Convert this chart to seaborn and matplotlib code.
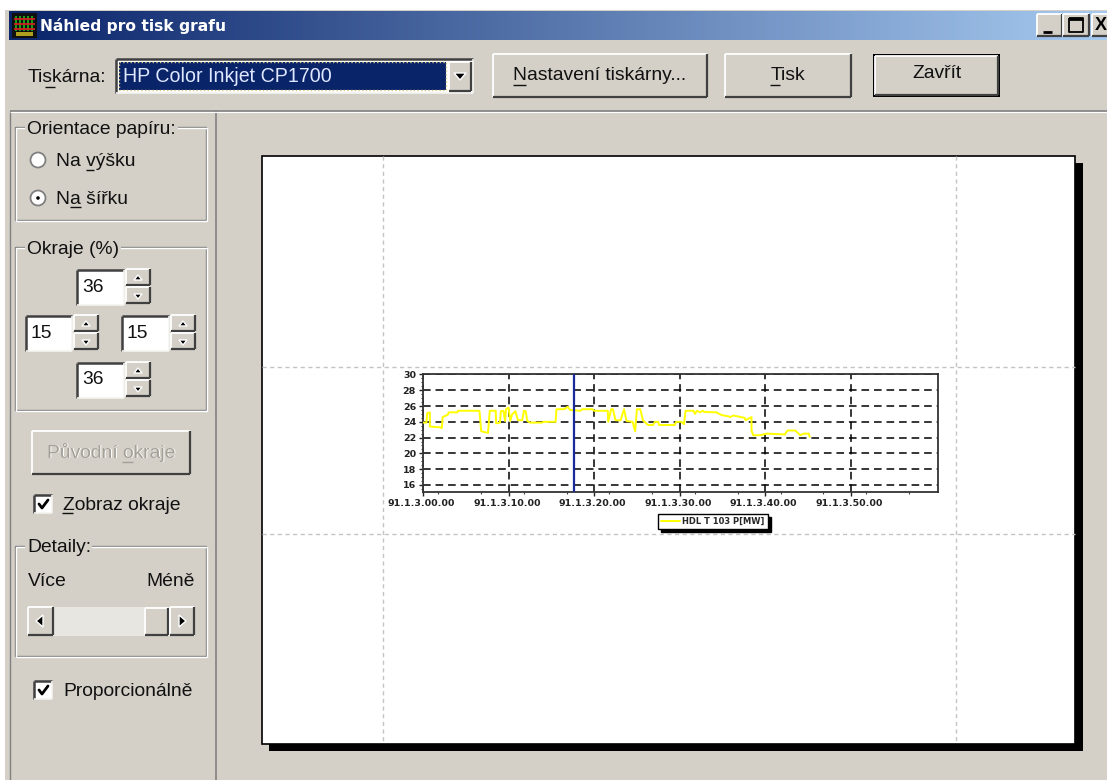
import numpy as np
import pandas as pd
import matplotlib
matplotlib.use("Agg")
import matplotlib.pyplot as plt
from matplotlib.patches import Rectangle, Circle, Polygon
from matplotlib.transforms import ScaledTranslation
import seaborn as sns

minutes = [0,0.4,0.5,0.8,0.8,2.0,2.2,2.3,2.9,3.0,4.0,4.1,6.6,6.8,7.6,7.8,8.5,8.55,9.0,9.1,9.4,9.6,9.7,10.0,10.2,10.4,10.8,11.1,11.6,11.8,12.0,12.2,12.5,13.9,14.1,15.5,15.6,16.5,16.9,17.2,18.4,18.6,19.8,20.0,21.6,21.65,22.0,22.2,22.5,23.1,23.5,23.8,24.5,24.8,25.0,25.4,25.7,26.3,26.9,27.1,27.5,27.6,29.4,29.6,30.2,30.5,30.7,31.6,31.8,32.0,32.4,32.7,32.9,34.3,34.9,35.7,35.9,36.3,37.6,37.7,38.4,38.4,38.6,39.4,40.2,42.3,42.6,43.5,44.1,44.5,45.1,45.2]
power = [23.9,23.9,25.1,25.2,23.4,23.3,23.2,24.6,24.9,25.2,25.2,25.4,25.4,22.8,22.6,25.4,25.4,23.8,23.9,25.35,25.4,24.1,25.6,25.8,24.1,24.9,25.35,24.2,24.2,25.4,25.35,24.1,23.9,23.9,24.0,24.0,25.6,25.6,25.9,25.5,25.4,25.6,25.6,25.4,25.4,24.0,25.6,25.6,24.2,24.2,25.6,24.1,24.0,22.8,25.6,25.6,24.2,23.6,23.6,24.0,24.0,23.6,23.6,24.0,24.0,23.7,25.4,25.4,25.0,25.4,25.2,25.4,25.25,25.2,24.85,24.7,24.6,24.8,24.5,24.2,24.6,22.9,22.3,22.3,22.5,22.4,22.9,22.9,22.3,22.5,22.5,22.1]
y_ticks = [16,18,20,22,24,26,28,30]
y_minor = [15.5,16.5,17,17.5,18.5,19,19.5,20.5,21,21.5,22.5,23,23.5,24.5,25,25.5,26.5,27,27.5,28.5,29,29.5]
x_ticks = [0,10,20,30,40,50]
x_minor = [1.8,6.8,11.8,16.8,21.8,26.8,31.8,36.8,41.8,46.8,51.8,56.8]
x_labels = ["91.1.3.00.00","91.1.3.10.00","91.1.3.20.00","91.1.3.30.00","91.1.3.40.00","91.1.3.50.00"]
series_name = "HDL T 103 P[MW]"
cursor_minute = [17.7]

sns.set_style("white")
plt.rcParams['font.family'] = ['Liberation Sans', 'DejaVu Sans']

W, H = 1107, 780
fig = plt.figure(figsize=(W/100, H/100), dpi=100, facecolor='white')
bg = fig.add_axes([0, 0, 1, 1])
bg.set_xlim(0, W); bg.set_ylim(H, 0); bg.axis('off')

FACE = '#d4d0c8'
DARK = '#808080'
DK2 = '#404040'
TXT = '#111111'
FS = 13.9

def rect(x0, y0, x1, y1, fc, ec='none', lw=0, z=1):
    bg.add_patch(Rectangle((x0, y0), x1-x0, y1-y0, fc=fc, ec=ec, lw=lw, zorder=z))

def line(xs, ys, c, lw=1, z=2, ls='-'):
    bg.plot(xs, ys, color=c, lw=lw, zorder=z, ls=ls, solid_capstyle='butt')

def raised(x0, y0, x1, y1, z=2, fc=FACE):
    rect(x0, y0, x1, y1, fc, z=z)
    line([x0, x1], [y0, y0], 'white', 1.3, z+.1)
    line([x0, x0], [y0, y1], 'white', 1.3, z+.1)
    line([x0, x1], [y1, y1], DK2, 1.6, z+.1)
    line([x1, x1], [y0, y1], DK2, 1.6, z+.1)

def sunken(x0, y0, x1, y1, z=2, fc='white'):
    rect(x0, y0, x1, y1, fc, z=z)
    line([x0, x1], [y0, y0], DK2, 1.8, z+.1)
    line([x0, x0], [y0, y1], DK2, 1.8, z+.1)
    line([x0, x1], [y1, y1], '#f4f4f0', 1.2, z+.1)
    line([x1, x1], [y0, y1], '#f4f4f0', 1.2, z+.1)

def label(x, y, s, c=TXT, fs=FS, ha='left', z=5, **kw):
    bg.text(x, y+1, s, color=c, fontsize=fs, ha=ha, va='center', zorder=z, **kw)

def group(x0, y0, x1, y1, title, tw):
    line([x0, x0, x1, x1, x0], [y0, y1, y1, y0, y0], DARK, 1, 2)
    line([x0+1, x0+1, x1+1, x1+1, x0+1], [y0+1, y1+1, y1+1, y0+1, y0+1], 'white', 1, 2)
    rect(x0+10, y0-3, x0+tw, y0+4, FACE, z=3)
    label(x0+12, y0+1, title)

def spin(x, y):
    raised(x, y, x+24, y+16, 3)
    raised(x, y+18, x+24, y+34, 3)
    bg.add_patch(Polygon([[x+8, y+11], [x+16, y+11], [x+12, y+6]], fc='black', zorder=5))
    bg.add_patch(Polygon([[x+8, y+25], [x+16, y+25], [x+12, y+30]], fc='black', zorder=5))

def spinbox(x, y, w, val):
    sunken(x, y, x+w, y+35)
    label(x+5, y+16, val)
    spin(x+w+2, y-1)

def check(x, y, s):
    sunken(x, y, x+18, y+18)
    bg.plot([x+5, x+8, x+14], [y+9, y+13, y+5], color='black', lw=2, zorder=5)
    label(x+29, y+9, s)

# window
rect(5, 10, W, H, FACE, z=0)
line([10, 10], [111, H], DARK, 1, 1)
line([215.5, 215.5], [111, H], DARK, 1.2, 1)
line([10, W], [111, 111], DARK, 1.2, 1)
line([10, W], [112, 112], 'white', .8, 1)

# title bar
grad = np.linspace(0, 1, 256)[None, :, None]
c0 = np.array([10, 36, 106])/255; c1 = np.array([166, 202, 240])/255
bg.imshow(c0 + (c1-c0)*grad, extent=[9, W, 40, 11], aspect='auto', zorder=1)
bg.set_xlim(0, W); bg.set_ylim(H, 0)
rect(12, 13, 37, 38, '#101010', z=2)
for xv in (16, 20, 24, 28, 32):
    line([xv, xv], [16, 31], '#18b018', 1.3, 3)
for yv in (19, 24, 29):
    line([14, 35], [yv, yv], '#d02020', 1.3, 3)
rect(16, 32, 33, 36, '#b0a020', z=3)
label(40, 25, "Náhled pro tisk grafu", c='white', fs=11.2, fontweight='bold', family=['DejaVu Sans'])
for x0, x1 in [(1037, 1062), (1063, 1089), (1092, 1112)]:
    raised(x0, 14, x1, 36, 3)
line([1043, 1052], [32, 32], 'black', 2, 5)
line([1069, 1069, 1083, 1083, 1069], [18, 32, 32, 18, 18], 'black', 1.3, 5)
line([1069, 1083], [18.5, 18.5], 'black', 2, 5)
label(1101, 24, "X", c='black', fs=13, ha='center', fontweight='bold')

# printer row
label(28, 77, "Tiskárna:")
line([45, 55], [87, 87], TXT, 1, 5)
sunken(116, 59, 473, 93)
rect(119, 62, 446, 90, '#0a246a', z=3)
line([119, 446, 446, 119, 119], [62, 62, 90, 90, 62], '#d8c880', 1, 4, ls=':')
label(123, 76, "HP Color Inkjet CP1700", c='#dfe8ff', fs=14.1)
raised(449, 62, 471, 91, 3)
bg.add_patch(Polygon([[454, 73], [466, 73], [460, 80]], fc='black', zorder=5))
raised(493, 54, 707, 97, 2)
label(600, 74, "Nastavení tiskárny...", ha='center')
line([513, 526], [85, 85], TXT, 1, 5)
raised(725, 54, 851, 97, 2)
label(788, 74, "Tisk", ha='center')
line([770, 780], [85, 85], TXT, 1, 5)
rect(873, 54, 1000, 97, 'black', z=2)
raised(875, 56, 998, 95, 3)
label(937, 73, "Zavřít", ha='center')

# left panel
group(15, 127, 206, 220, "Orientace papíru:", 163)
for yc, s, on in [(160, "Na výšku", False), (198, "Na šířku", True)]:
    bg.add_patch(Circle((38, yc), 7.5, fc='white', ec=DARK, lw=1.3, zorder=3))
    if on:
        bg.add_patch(Circle((38, yc), 2.5, fc='black', zorder=4))
    label(56, yc, s)
line([86, 94], [170, 170], TXT, 1, 5)
line([70, 81], [207, 207], TXT, 1, 5)

group(15, 247, 206, 410, "Okraje (%)", 106)
spinbox(77, 270, 47, "36")
spinbox(26, 316, 46, "15")
spinbox(122, 316, 47, "15")
spinbox(77, 363, 47, "36")

raised(32, 431, 190, 474, 2)
label(112, 452, "Původní okraje", c='white', ha='center', z=4)
label(111, 451, "Původní okraje", c='#a4a098', ha='center')
line([122, 133], [462, 462], '#a4a098', 1, 5)
check(34, 495, "Zobraz okraje")
line([62, 73], [513, 513], TXT, 1, 5)

group(15, 546, 206, 656, "Detaily:", 77)
label(28, 581, "Více")
label(195, 581, "Méně", ha='right')
rect(28, 607, 195, 636, '#e8e6e0', z=2)
raised(28, 607, 53, 635, 3)
raised(145, 608, 168, 635, 3)
raised(170, 607, 194, 635, 3)
bg.add_patch(Polygon([[36, 621], [43, 615], [43, 627]], fc='black', zorder=5))
bg.add_patch(Polygon([[186, 621], [179, 615], [179, 627]], fc='black', zorder=5))
check(34, 681, "Proporcionálně")

# paper
rect(269, 163, 1083, 751, 'black', z=1)
rect(262, 156, 1075, 744, 'white', ec='black', lw=1.2, z=2)
for xv in (383, 956):
    line([xv, xv], [156, 744], '#c4c4c4', 1, 3, ls=(0, (3, 2.5)))
for yv in (367, 534):
    line([262, 1075], [yv, yv], '#c4c4c4', 1, 3, ls=(0, (3, 2.5)))

# chart axes
L, R, T, B = 423, 938, 374.5, 492
ax = fig.add_axes([L/W, 1-B/H, (R-L)/W, (B-T)/H], zorder=5)
ax.set_facecolor('white')
df = pd.DataFrame({"minute": minutes, "power": power})
sns.lineplot(data=df, x="minute", y="power", ax=ax, color='#ffff00', lw=1.4,
             sort=False, estimator=None, label=series_name, zorder=3)
for c in cursor_minute:
    ax.axvline(c, color='#1a2a9a', lw=1.6, zorder=4)
ax.set_xlim(0, 60.2)
ax.set_ylim(15.1, 30)
ax.set_xlabel(""); ax.set_ylabel("")
ax.set_xticks(x_ticks)
ax.set_xticks(x_minor, minor=True)
ax.set_xticklabels(x_labels, fontsize=6.8, fontweight='bold', color='#222222',
                   family=['DejaVu Sans'])
ax.set_yticks(y_ticks)
ax.set_yticks(y_minor, minor=True)
ax.set_yticklabels([str(v) for v in y_ticks], fontsize=6.8, fontweight='bold',
                   color='#222222', family=['DejaVu Sans'])
ax.tick_params(axis='both', which='major', length=3, width=1, color='#222222', pad=2,
               bottom=True, left=True)
ax.tick_params(axis='both', which='minor', length=1.5, width=.8, color='#444444',
               bottom=True, left=True)
shift = ScaledTranslation(-1.5/100, 0, fig.dpi_scale_trans)
for t in ax.get_xticklabels():
    t.set_transform(t.get_transform() + shift)
ax.grid(True, which='major', color='black', lw=1.1, ls=(0, (5, 3.2)))
ax.set_axisbelow(True)
for s in ax.spines.values():
    s.set_visible(True); s.set_color('#333333'); s.set_linewidth(1.3)
leg = ax.legend(loc='center', bbox_to_anchor=((713-L)/(R-L), 1-(521.5-T)/(B-T)),
                frameon=True, fancybox=False, shadow={'color': 'black', 'alpha': 1, 'ox': 2, 'oy': -2},
                edgecolor='black', framealpha=1, borderpad=.35,
                handlelength=2.2, handletextpad=.35,
                prop={'weight': 'bold', 'size': 6, 'family': 'DejaVu Sans'})
leg.get_frame().set_linewidth(1)

fig.savefig("out.png", dpi=100, facecolor='white')
